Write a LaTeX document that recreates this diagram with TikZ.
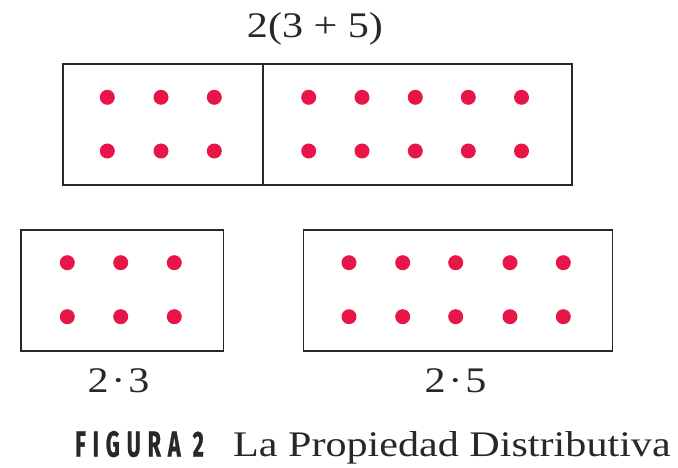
\documentclass[tikz,border=0pt]{standalone}
\usepackage{fontspec}
\setmainfont{Liberation Serif}
\newfontfamily\capfont[LetterSpace=32, BoldFeatures={FakeBold=1.2}]{Fira Sans}
\definecolor{dotred}{RGB}{232,22,72}
\definecolor{ink}{RGB}{40,40,40}
\newcommand{\wide}[1]{\scalebox{1.17}[1]{#1}}
\tikzset{
  boxframe/.style={draw=ink, line width=1.6pt},
  reddot/.style={circle, fill=dotred, inner sep=0pt, minimum size=15pt},
  mathlbl/.style={font=\fontsize{36}{40}\selectfont, text=ink, inner sep=0pt, anchor=base},
}
\begin{document}
\begin{tikzpicture}[x=1pt,y=-1pt]
\useasboundingbox (0,0) rectangle (678,468);
% top combined box
\node[boxframe, minimum width=200pt, minimum height=121pt, inner sep=0pt, anchor=north west] (tl) at (62,63.5) {};
\node[boxframe, minimum width=309pt, minimum height=121pt, inner sep=0pt, anchor=north west] (tr) at (262,63.5) {};
\node[mathlbl] (ttop) at (315,38) {\wide{2(3 + 5)}};
% bottom boxes
\node[boxframe, minimum width=202.5pt, minimum height=121pt, inner sep=0pt, anchor=north west] (bl) at (20,229) {};
\node[boxframe, minimum width=309pt, minimum height=121pt, inner sep=0pt, anchor=north west] (br) at (302.7,229) {};
\node[mathlbl] (lbl) at (118.5,392) {\wide{2\kern2.5pt\textperiodcentered\kern2.5pt3}};
\node[mathlbl] (lbr) at (455.5,392) {\wide{2\kern2.5pt\textperiodcentered\kern2.5pt5}};
% dots
\foreach \x [count=\i] in {107.3,161,214.3}{
  \node[reddot] (ta\i) at (\x,97.3) {};
  \node[reddot] (tb\i) at (\x,151) {};
}
\foreach \x [count=\i] in {308.7,362,415.3,468.3,521.5}{
  \node[reddot] (tc\i) at (\x,97.3) {};
  \node[reddot] (td\i) at (\x,151) {};
}
\foreach \x [count=\i] in {67.3,120.7,174.3}{
  \node[reddot] (ba\i) at (\x,262.7) {};
  \node[reddot] (bb\i) at (\x,316.7) {};
}
\foreach \x [count=\i] in {349,402.7,455.7,510,563.3}{
  \node[reddot] (bc\i) at (\x,262.7) {};
  \node[reddot] (bd\i) at (\x,316.7) {};
}
% caption
\node[anchor=base west, inner sep=0pt, text=ink] (fig) at (75,456.5) {\scalebox{0.6}[1]{\capfont\bfseries\fontsize{36}{40}\selectfont FIGURA 2}};
\node[anchor=base west, inner sep=0pt, text=ink, font=\fontsize{36}{40}\selectfont] (cap) at (233,456.5) {\wide{La Propiedad Distributiva}};
\end{tikzpicture}
\end{document}
